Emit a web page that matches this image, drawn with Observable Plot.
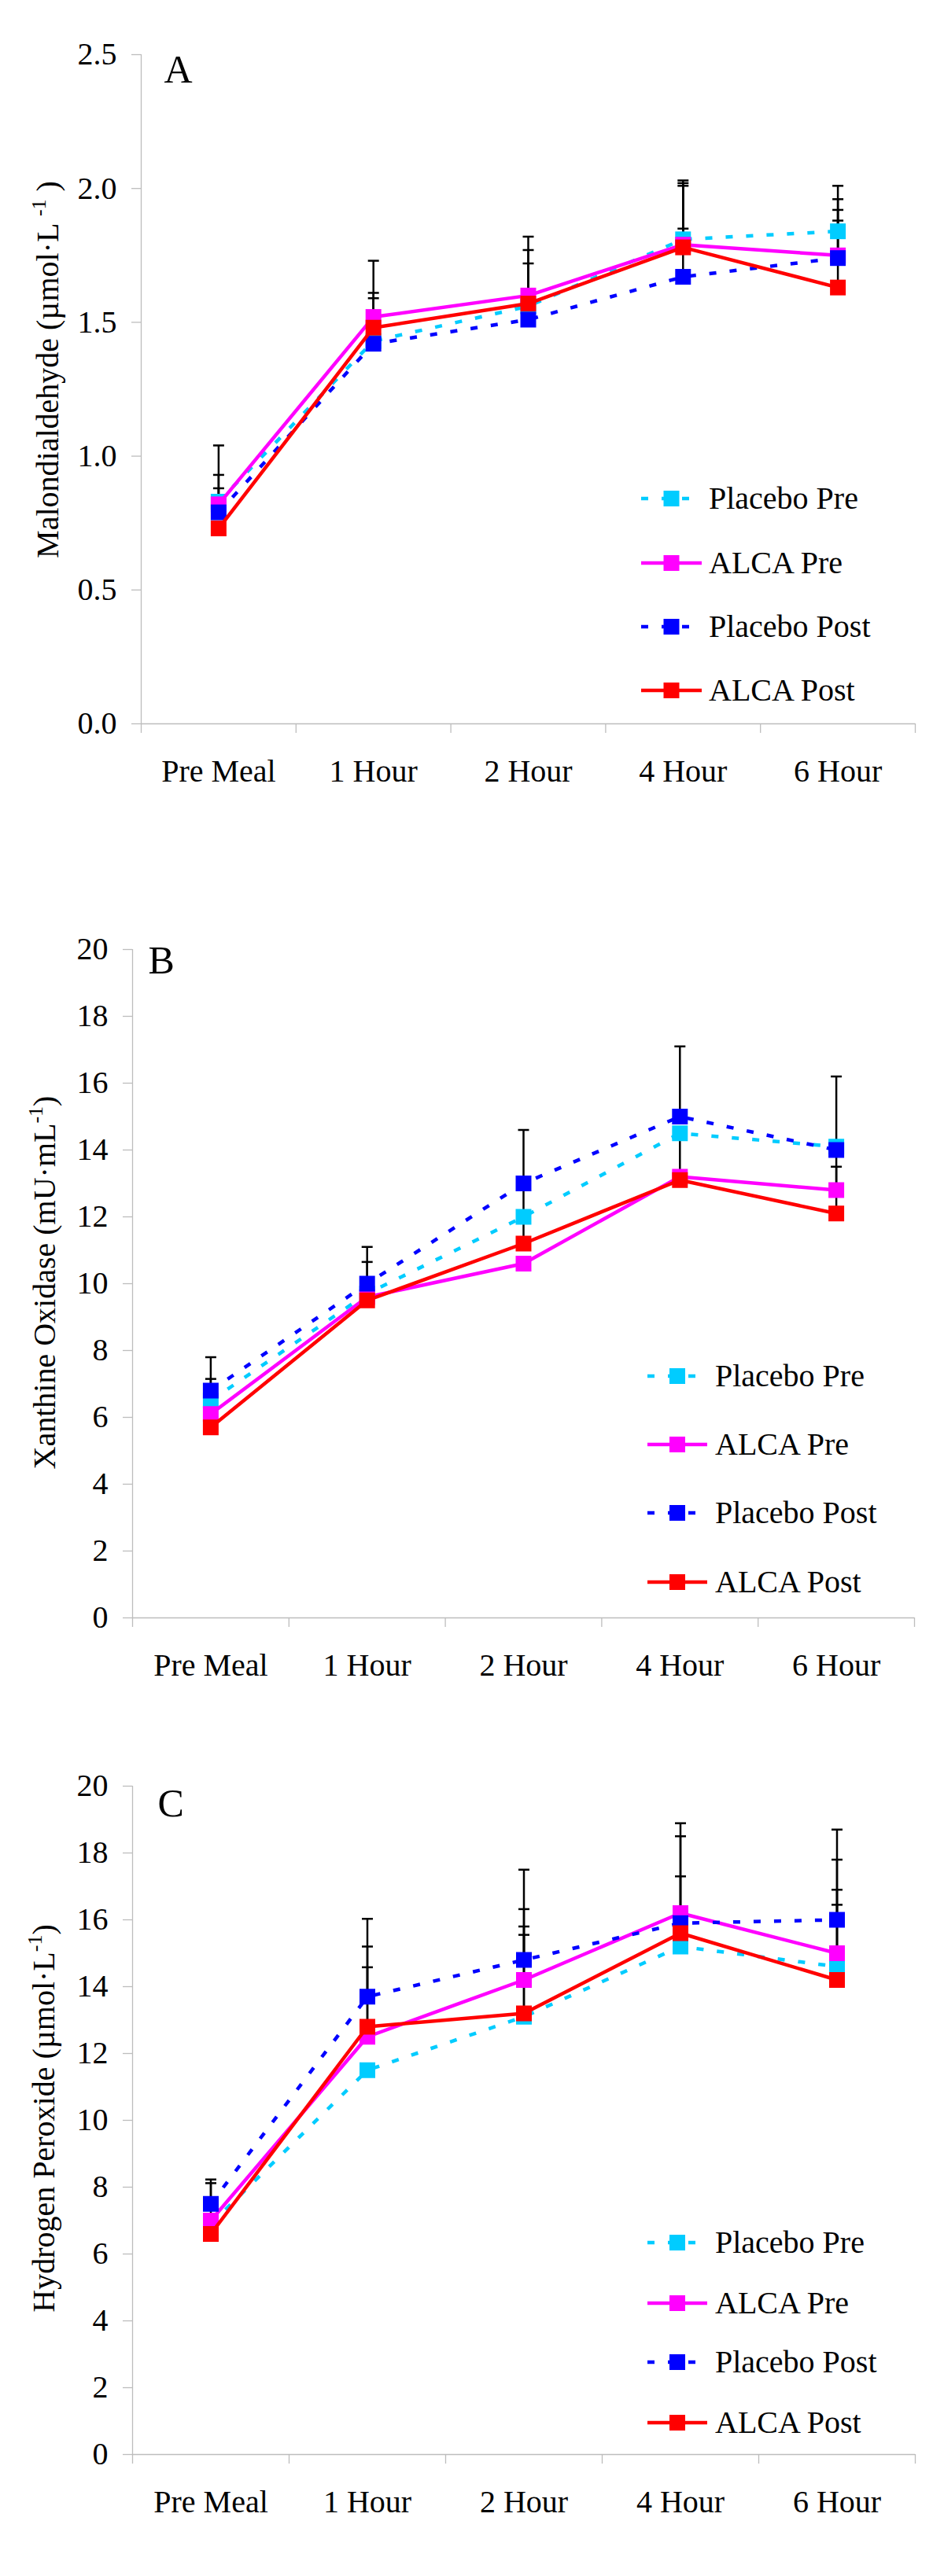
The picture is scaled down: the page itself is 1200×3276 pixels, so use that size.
<!DOCTYPE html>
<html>
<head>
<meta charset="utf-8">
<script src="https://cdn.jsdelivr.net/npm/d3@7"></script>
<script src="https://cdn.jsdelivr.net/npm/@observablehq/plot@0.6"></script>
<style>
html, body { margin: 0; padding: 0; background: #fff; }
#page { position: relative; width: 1200px; height: 3276px; background: #fff; overflow: hidden; }
.panel { position: absolute; left: 0; }
#overlay { position: absolute; left: 0; top: 0; pointer-events: none; }
</style>
</head>
<body>
<div id="page"></div>
<script>
// ---------------- DATA ----------------
const categories = ["Pre Meal", "1 Hour", "2 Hour", "4 Hour", "6 Hour"];
const seriesNames = ["Placebo Pre", "ALCA Pre", "Placebo Post", "ALCA Post"];

// Panel A: Malondialdehyde (µmol·L-1) — means
const mdaPlaceboPre  = [0.83, 1.43, 1.56, 1.81, 1.84];
const mdaAlcaPre     = [0.82, 1.52, 1.60, 1.79, 1.75];
const mdaPlaceboPost = [0.79, 1.42, 1.51, 1.67, 1.74];
const mdaAlcaPost    = [0.73, 1.48, 1.57, 1.78, 1.63];
// upper ends of error bars (null = not visible)
const mdaPlaceboPreTop  = [1.04, 1.73, 1.82, 2.03, 2.01];
const mdaAlcaPreTop     = [0.93, 1.61, 1.77, 2.02, 1.96];
const mdaPlaceboPostTop = [0.88, null, null, 1.85, 1.92];
const mdaAlcaPostTop    = [null, 1.59, 1.72, 2.01, 1.88];
const mdaTicks = [0, 0.5, 1, 1.5, 2, 2.5];

// Panel B: Xanthine Oxidase (mU·mL-1)
const xoPlaceboPre  = [6.5, 9.7, 12.0, 14.5, 14.1];
const xoAlcaPre     = [6.1, 9.6, 10.6, 13.2, 12.8];
const xoPlaceboPost = [6.8, 10.0, 13.0, 15.0, 14.0];
const xoAlcaPost    = [5.7, 9.5, 11.2, 13.1, 12.1];
const xoPlaceboPreTop  = [7.15, 10.65, null, null, 16.2];
const xoAlcaPreTop     = [null, null, null, null, 14.0];
const xoPlaceboPostTop = [7.8, 11.1, 14.6, 17.1, null];
const xoAlcaPostTop    = [null, null, 12.95, 14.5, 13.5];
const xoTicks = [0, 2, 4, 6, 8, 10, 12, 14, 16, 18, 20];

// Panel C: Hydrogen Peroxide (µmol·L-1)
const hpPlaceboPre  = [6.9, 11.5, 13.1, 15.2, 14.6];
const hpAlcaPre     = [7.0, 12.5, 14.2, 16.2, 15.0];
const hpPlaceboPost = [7.5, 13.7, 14.8, 15.9, 16.0];
const hpAlcaPost    = [6.6, 12.8, 13.2, 15.6, 14.2];
const hpPlaceboPreTop  = [null, null, 15.55, null, 16.9];
const hpAlcaPreTop     = [8.12, 14.58, 16.32, 18.89, 17.8];
const hpPlaceboPostTop = [8.23, 16.03, 17.5, 18.5, 18.7];
const hpAlcaPostTop    = [null, 15.2, 15.8, 17.3, 16.45];
const hpTicks = [0, 2, 4, 6, 8, 10, 12, 14, 16, 18, 20];

// ---------------- STYLE ----------------
const FONT = "'Liberation Serif', 'Times New Roman', serif";
const seriesStyle = [
  {color: "#00CCFF", dash: "9,17"},
  {color: "#FF00FF", dash: null},
  {color: "#0000FF", dash: "9,17"},
  {color: "#FF0000", dash: null}
];
const AXIS = "#bdbdbd";

const panels = [
  {
    letter: "A", values: [mdaPlaceboPre, mdaAlcaPre, mdaPlaceboPost, mdaAlcaPost],
    tops: [mdaPlaceboPreTop, mdaAlcaPreTop, mdaPlaceboPostTop, mdaAlcaPostTop],
    ticks: mdaTicks, fmt: d3.format(".1f"),
    title: ["Malondialdehyde (\u00B5mol\u00B7L ", "-1", " )"],
    layout: {top: 9, plotH: 851, ml: 179, mr: 37, letterDx: 29, letterDy: 0,
             titleX: 74, titleY: 470, legX1: 815, legX2: 892, legTextX: 901, legY: [634, 716, 797, 878]}
  },
  {
    letter: "B", values: [xoPlaceboPre, xoAlcaPre, xoPlaceboPost, xoAlcaPost],
    tops: [xoPlaceboPreTop, xoAlcaPreTop, xoPlaceboPostTop, xoAlcaPostTop],
    ticks: xoTicks, fmt: d3.format("d"),
    title: ["Xanthine Oxidase (mU\u00B7mL", "-1", ")"],
    layout: {top: 1147, plotH: 850, ml: 168, mr: 38, letterDx: 20, letterDy: -5,
             titleX: 70, titleY: 1631, legX1: 823, legX2: 899, legTextX: 909, legY: [1750, 1837, 1924, 2012]}
  },
  {
    letter: "C", values: [hpPlaceboPre, hpAlcaPre, hpPlaceboPost, hpAlcaPost],
    tops: [hpPlaceboPreTop, hpAlcaPreTop, hpPlaceboPostTop, hpAlcaPostTop],
    ticks: hpTicks, fmt: d3.format("d"),
    title: ["Hydrogen Peroxide (\u00B5mol\u00B7L", "-1", ")"],
    layout: {top: 2211, plotH: 850, ml: 168, mr: 37, letterDx: 32, letterDy: 3,
             titleX: 69, titleY: 2694, legX1: 823, legX2: 899, legTextX: 909, legY: [2852, 2929, 3004, 3081]}
  }
];

const capSymbol = {
  draw(ctx, size) {
    const h = Math.sqrt(size / Math.PI);
    ctx.moveTo(-h, 0);
    ctx.lineTo(h, 0);
  }
};

const page = document.getElementById("page");
const MT = 60, MB = 120;

panels.forEach(p => {
  const L = p.layout;
  const rows = [];
  p.values.forEach((vals, k) => {
    vals.forEach((v, i) => rows.push({series: seriesNames[k], k, xi: i + 0.5, y: v, top: p.tops[k][i]}));
  });
  const errRows = rows.filter(d => d.top != null);

  const marks = [
    Plot.ruleX([0], {stroke: AXIS, strokeWidth: 1.3}),
    Plot.ruleY([0], {stroke: AXIS, strokeWidth: 1.3}),
    Plot.axisY({ticks: p.ticks, tickSize: 12, tickPadding: 19, stroke: AXIS, strokeWidth: 1.3,
                fill: "black", tickFormat: p.fmt, label: null}),
    Plot.axisX({ticks: d3.range(categories.length + 1), tickSize: 12, stroke: AXIS, strokeWidth: 1.3,
                tickFormat: () => "", label: null}),
    Plot.axisX({ticks: d3.range(categories.length).map(i => i + 0.5), tickSize: 0, tickPadding: 45,
                fill: "black", tickFormat: v => categories[Math.round(v - 0.5)], label: null}),
    Plot.ruleX(errRows, {x: "xi", y1: "y", y2: "top", stroke: "black", strokeWidth: 2.5}),
    Plot.dot(errRows, {x: "xi", y: "top", symbol: capSymbol, r: 7, fill: "none", stroke: "black", strokeWidth: 2.5})
  ];
  seriesNames.forEach((name, k) => {
    const data = rows.filter(d => d.k === k);
    const st = seriesStyle[k];
    marks.push(Plot.line(data, {x: "xi", y: "y", stroke: st.color, strokeWidth: 4.5,
      strokeDasharray: st.dash || undefined, strokeLinecap: "butt", strokeLinejoin: "round"}));
    marks.push(Plot.dot(data, {x: "xi", y: "y", symbol: "square", r: 11.28, fill: st.color, stroke: "none"}));
  });
  marks.push(Plot.text([p.letter], {frameAnchor: "top-left", textAnchor: "start", lineAnchor: "top",
    dx: L.letterDx, dy: L.letterDy, fontSize: 50, fill: "black"}));

  const chart = Plot.plot({
    width: 1200,
    height: MT + L.plotH + MB,
    marginTop: MT,
    marginBottom: MB,
    marginLeft: L.ml,
    marginRight: L.mr,
    x: {type: "linear", domain: [0, categories.length], axis: null},
    y: {domain: [0, p.ticks[p.ticks.length - 1]], axis: null},
    style: {fontFamily: FONT, fontSize: "40px", background: "white", color: "black"},
    marks
  });
  chart.classList.add("panel");
  chart.style.top = L.top + "px";
  chart.style.position = "absolute";
  page.appendChild(chart);
});

// ---------------- OVERLAY: y titles + legends ----------------
const overlay = d3.select(page).append("svg")
  .attr("id", "overlay")
  .attr("width", 1200).attr("height", 3276)
  .style("font-family", FONT);

panels.forEach(p => {
  const L = p.layout;
  const t = overlay.append("text")
    .attr("transform", `translate(${L.titleX},${L.titleY}) rotate(-90)`)
    .attr("text-anchor", "middle")
    .attr("font-size", 40)
    .attr("fill", "black");
  t.append("tspan").text(p.title[0]);
  t.append("tspan").attr("font-size", 26).attr("dy", -16).text(p.title[1]);
  t.append("tspan").attr("dy", 16).text(p.title[2]);

  seriesNames.forEach((name, k) => {
    const st = seriesStyle[k];
    const y = L.legY[k];
    const g = overlay.append("g");
    g.append("line")
      .attr("x1", L.legX1).attr("x2", L.legX2).attr("y1", y).attr("y2", y)
      .attr("stroke", st.color).attr("stroke-width", 4.5)
      .attr("stroke-dasharray", st.dash)
      .attr("stroke-linecap", "butt");
    const cx = (L.legX1 + L.legX2) / 2;
    g.append("rect").attr("x", cx - 10).attr("y", y - 10).attr("width", 20).attr("height", 20)
      .attr("fill", st.color);
    g.append("text").attr("x", L.legTextX).attr("y", y + 13)
      .attr("font-size", 40).attr("fill", "black").text(name);
  });
});
</script>
</body>
</html>
